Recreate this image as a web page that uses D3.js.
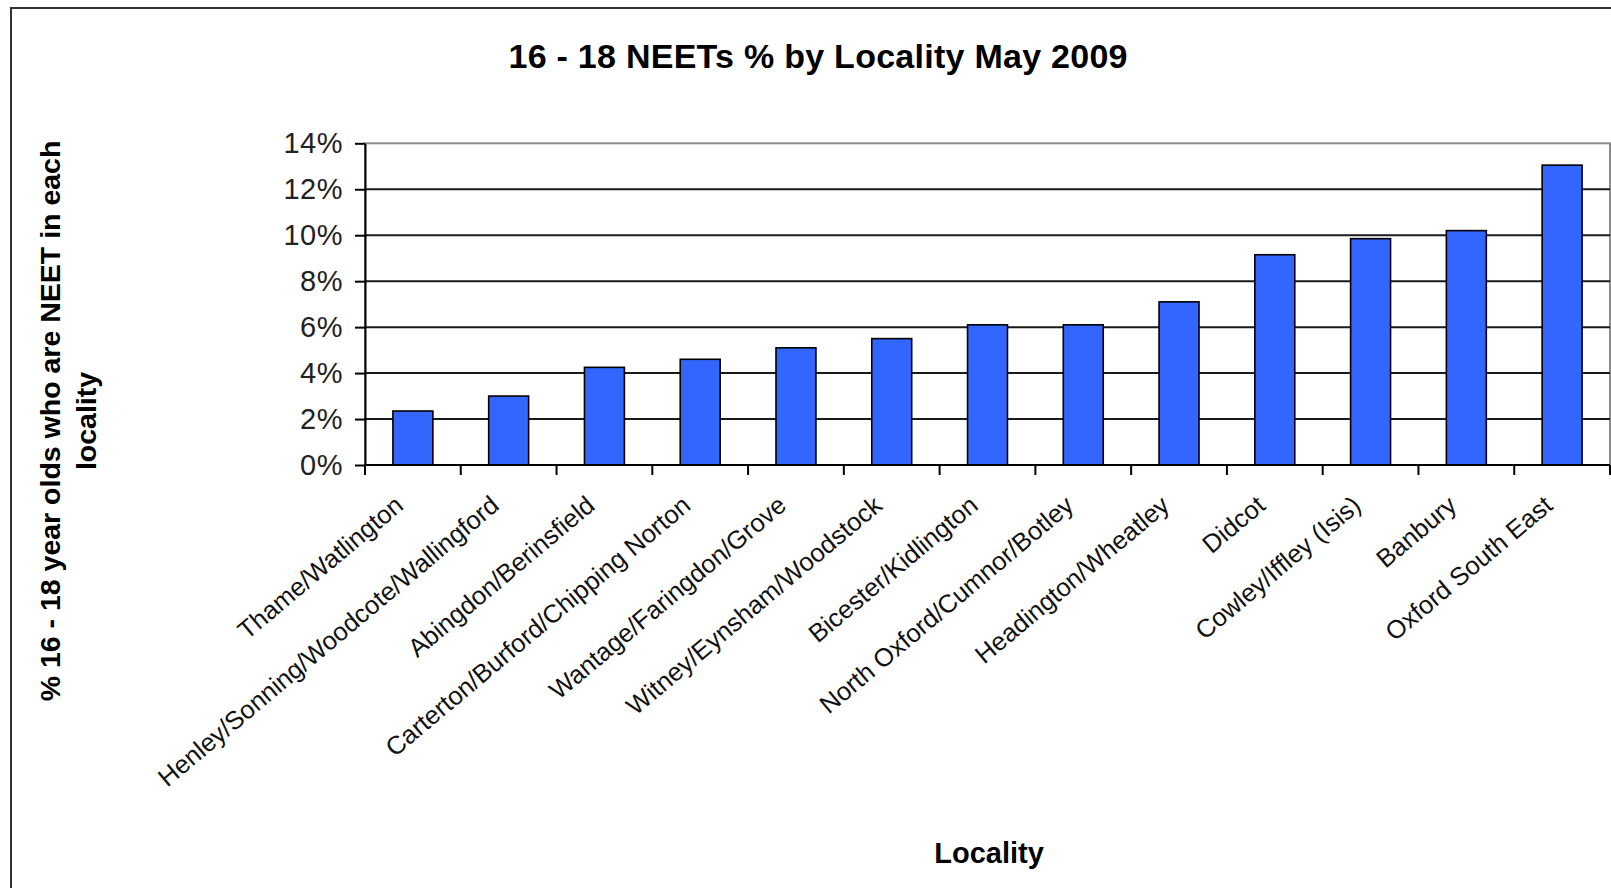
<!DOCTYPE html>
<html><head><meta charset="utf-8">
<script src="https://cdn.jsdelivr.net/npm/d3@7"></script>
<style>
body{margin:0;background:#fff}
svg{display:block}
text{font-family:"Liberation Sans",Arial,sans-serif}
</style>
</head><body><svg id="c" width="1611" height="888"></svg>
<script>
const categories = [
  "Thame/Watlington",
  "Henley/Sonning/Woodcote/Wallingford",
  "Abingdon/Berinsfield",
  "Carterton/Burford/Chipping Norton",
  "Wantage/Faringdon/Grove",
  "Witney/Eynsham/Woodstock",
  "Bicester/Kidlington",
  "North Oxford/Cumnor/Botley",
  "Headington/Wheatley",
  "Didcot",
  "Cowley/Iffley (Isis)",
  "Banbury",
  "Oxford South East"
];
const values = [2.35, 3.0, 4.25, 4.6, 5.1, 5.5, 6.1, 6.1, 7.1, 9.15, 9.85, 10.2, 13.05];
const yTickValues = [0, 2, 4, 6, 8, 10, 12, 14];
const gridValues = [2, 4, 6, 8, 10, 12];
const chartTitle = "16 - 18 NEETs % by Locality May 2009";
const yTitleLines = ["% 16 - 18 year olds who are NEET in each", "locality"];
const xTitle = "Locality";

const W = 1611, H = 888;
const svg = d3.select("#c");
svg.append("rect").attr("width", W).attr("height", H).attr("fill", "#fff");

// outer chart border
svg.append("rect").attr("x", 11).attr("y", 8).attr("width", 1614).attr("height", 900)
  .attr("fill", "none").attr("stroke", "#333").attr("stroke-width", 2);

const plot = {left: 365, right: 1610, top: 143.3, bottom: 465};
const x = d3.scaleBand().domain(categories).range([plot.left, plot.right])
  .paddingInner(0.583).paddingOuter(0.2915);
const y = d3.scaleLinear().domain([0, 14]).range([plot.bottom, plot.top]);

// plot area border
svg.append("rect").attr("x", plot.left).attr("y", plot.top)
  .attr("width", plot.right - plot.left).attr("height", plot.bottom - plot.top)
  .attr("fill", "none").attr("stroke", "#8c8c8c").attr("stroke-width", 2);

// gridlines
svg.append("g").selectAll("line").data(gridValues).join("line")
  .attr("x1", plot.left).attr("x2", plot.right)
  .attr("y1", d => y(d)).attr("y2", d => y(d))
  .attr("stroke", "#1a1a1a").attr("stroke-width", 2);

// bars
svg.append("g").selectAll("rect").data(values).join("rect")
  .attr("x", (d, i) => x(categories[i]))
  .attr("y", d => y(d))
  .attr("width", x.bandwidth())
  .attr("height", d => y(0) - y(d))
  .attr("fill", "#3366FF").attr("stroke", "#000").attr("stroke-width", 1.6);

// y axis
const yAxis = d3.axisLeft(y).tickValues(yTickValues).tickSize(10).tickSizeOuter(0)
  .tickPadding(12).tickFormat(d => d + "%");
const gy = svg.append("g").attr("transform", `translate(${plot.left},0)`).call(yAxis);
gy.select(".domain").attr("stroke", "#000").attr("stroke-width", 2);
gy.selectAll(".tick line").attr("stroke", "#000").attr("stroke-width", 2);
gy.selectAll(".tick text").attr("font-size", 29).attr("font-family", '"Liberation Sans",Arial,sans-serif')
  .attr("fill", "#222").attr("letter-spacing", 0.5);

// x axis line
svg.append("line").attr("x1", plot.left).attr("x2", plot.right)
  .attr("y1", y(0)).attr("y2", y(0)).attr("stroke", "#000").attr("stroke-width", 2);
// boundary ticks
const bounds = d3.range(categories.length + 1).map(i => plot.left + i * x.step());
svg.append("g").selectAll("line").data(bounds).join("line")
  .attr("x1", d => d).attr("x2", d => d)
  .attr("y1", y(0)).attr("y2", y(0) + 10)
  .attr("stroke", "#000").attr("stroke-width", 2);

// category labels
svg.append("g").selectAll("text").data(categories).join("text")
  .attr("transform", d => `translate(${x(d) + x.bandwidth() / 2 - 8},508) rotate(-40)`)
  .attr("text-anchor", "end").attr("font-size", 25.5).attr("fill", "#111")
  .text(d => d);

// title
svg.append("text").attr("x", 818).attr("y", 68).attr("text-anchor", "middle")
  .attr("font-size", 34).attr("font-weight", "bold").attr("fill", "#000")
  .attr("textLength", 619).attr("lengthAdjust", "spacing")
  .text(chartTitle);

// y title
const yt = svg.append("text").attr("transform", "translate(0,421) rotate(-90)")
  .attr("text-anchor", "middle").attr("font-size", 28.5).attr("font-weight", "bold").attr("fill", "#000");
yt.selectAll("tspan").data(yTitleLines).join("tspan")
  .attr("x", 0).attr("y", (d, i) => i === 0 ? 60 : 96)
  .text(d => d);

// x title
svg.append("text").attr("x", 989).attr("y", 863).attr("text-anchor", "middle")
  .attr("font-size", 29).attr("font-weight", "bold").attr("fill", "#000")
  .text(xTitle);
</script>
</body></html>
